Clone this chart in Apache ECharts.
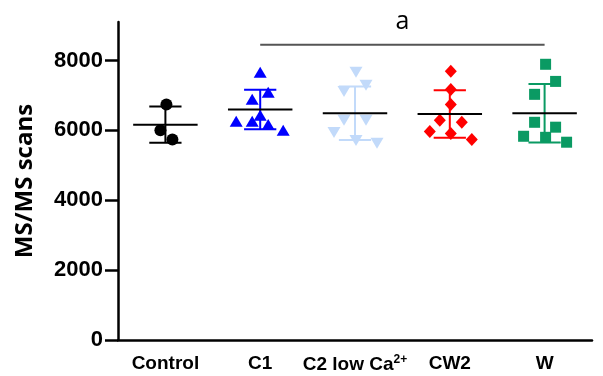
<!DOCTYPE html>
<html>
<head>
<meta charset="utf-8">
<script src="https://cdn.jsdelivr.net/npm/echarts@6/dist/echarts.min.js"></script>
<style>
    html, body { margin: 0; padding: 0; background: #fff; }
    #chart { width: 603px; height: 376px; }
</style>
</head>
<body>
<div id="chart"></div>
<script>
    // 组别
    var groups = ["Control", "C1", "C2 low Ca2+", "CW2", "W"];
    var yTicks = [0, 2000, 4000, 6000, 8000];

    // 每组的数值 (MS/MS scans)
    var controlVals = [6740, 6000, 5740];
    var c1Vals = [7660, 7090, 6890, 6260, 6260, 6430, 6170, 6000];
    var c2Vals = [7660, 7290, 7110, 6290, 6290, 5940, 5710, 5630];
    var cw2Vals = [7690, 7170, 6740, 6290, 6230, 5970, 5910, 5740];
    var wVals = [7890, 7400, 7030, 6230, 6090, 5830, 5800, 5660];

    // 点的水平抖动 (px)
    var controlJit = [1, -5, 7];
    var c1Jit = [0, 8, -8, -24, -8, 0, 8, 23];
    var c2Jit = [1, 11, -11, -11, 11, -21, 1, 22];
    var cw2Jit = [1, 1, 1, -10, 12, -20, 1, 22];
    var wJit = [1, 11, -10, -10, 11, -21, 1, 22];

    // 显著性标记 a: C1 -> W
    var sigFrom = 1, sigTo = 4, sigY = 8450, sigText = "a";

    var allVals = [controlVals, c1Vals, c2Vals, cw2Vals, wVals];
    var allJit = [controlJit, c1Jit, c2Jit, cw2Jit, wJit];
    var colors = ["#000000", "#0000ff", "#c2dafa", "#ff0000", "#0a9a63"];
    var symbols = ["circle", "triangle", "path://M0,0 L10,0 L5,9 Z", "diamond", "rect"];
    var sizes = [[12, 12], [13, 11], [13, 11], [12, 13], [11, 11]];

    function mean(a) {
        var s = 0;
        a.forEach(function (v) { s += v; });
        return s / a.length;
    }
    function sd(a) {
        var m = mean(a), s = 0;
        a.forEach(function (v) { s += (v - m) * (v - m); });
        return Math.sqrt(s / (a.length - 1));
    }

    var series = [];
    allVals.forEach(function (vals, gi) {
        series.push({
            type: "scatter",
            name: groups[gi],
            symbol: symbols[gi],
            symbolSize: sizes[gi],
            itemStyle: { color: colors[gi], opacity: 1 },
            z: 2,
            data: vals.map(function (v, i) {
                return { value: [gi, v], symbolOffset: [allJit[gi][i], 0] };
            })
        });
    });

    // 均值 ± SD
    var statData = allVals.map(function (vals, gi) {
        return [gi, mean(vals), sd(vals)];
    });
    series.push({
        type: "custom",
        z: 3,
        data: statData,
        renderItem: function (params, api) {
            var gi = api.value(0);
            var m = api.value(1), s = api.value(2);
            var band = api.size([1, 0])[0];
            var c = api.coord([gi, m]);
            var top = api.coord([gi, m + s])[1];
            var bot = api.coord([gi, m - s])[1];
            var col = colors[gi];
            var wMean = band * 0.34, wCap = band * 0.17;
            return {
                type: "group",
                children: [
                    { type: "line", shape: { x1: c[0], y1: top, x2: c[0], y2: bot }, style: { stroke: col, lineWidth: 2 } },
                    { type: "line", shape: { x1: c[0] - wCap, y1: top, x2: c[0] + wCap, y2: top }, style: { stroke: col, lineWidth: 2 } },
                    { type: "line", shape: { x1: c[0] - wCap, y1: bot, x2: c[0] + wCap, y2: bot }, style: { stroke: col, lineWidth: 2 } },
                    { type: "line", shape: { x1: c[0] - wMean, y1: c[1], x2: c[0] + wMean, y2: c[1] }, style: { stroke: "#000", lineWidth: 2 } }
                ]
            };
        }
    });

    // 显著性横线
    series.push({
        type: "custom",
        z: 3,
        clip: false,
        data: [[sigFrom, sigTo, sigY]],
        renderItem: function (params, api) {
            var p1 = api.coord([api.value(0), api.value(2)]);
            var p2 = api.coord([api.value(1), api.value(2)]);
            return {
                type: "group",
                children: [
                    { type: "line", shape: { x1: p1[0], y1: p1[1], x2: p2[0], y2: p2[1] }, style: { stroke: "#555", lineWidth: 2 } },
                    {
                        type: "text",
                        style: {
                            x: (p1[0] + p2[0]) / 2, y: p1[1] - 10, text: sigText,
                            fill: "#000", font: "25px 'Open Sans', sans-serif",
                            align: "center", verticalAlign: "bottom"
                        }
                    }
                ]
            };
        }
    });

    var option = {
        animation: false,
        grid: { left: 118, right: 11, top: 22, bottom: 36, containLabel: false },
        xAxis: {
            type: "category",
            data: groups,
            boundaryGap: true,
            axisLine: { onZero: false, lineStyle: { color: "#000", width: 2.5 } },
            axisTick: { alignWithLabel: true, length: 7, lineStyle: { color: "#000", width: 2.5 } },
            axisLabel: {
                margin: 14,
                interval: 0,
                color: "#000",
                fontFamily: "Liberation Sans, Arial, sans-serif",
                fontWeight: "bold",
                fontSize: 19,
                formatter: function (v) {
                    if (v === "C2 low Ca2+") return "C2 low Ca{sup|2+}";
                    return v;
                },
                rich: {
                    sup: {
                        fontSize: 12, fontWeight: "bold", color: "#000",
                        fontFamily: "Liberation Sans, Arial, sans-serif",
                        verticalAlign: "bottom", padding: [0, 0, 9, 0]
                    }
                }
            },
            splitLine: { show: false }
        },
        yAxis: {
            type: "value",
            min: 0,
            max: 9100,
            name: "MS/MS scans",
            nameLocation: "middle",
            nameGap: 81,
            nameTextStyle: {
                color: "#000", fontSize: 24, fontWeight: "bold",
                fontFamily: "Open Sans, DejaVu Sans, sans-serif"
            },
            axisLine: { show: true, lineStyle: { color: "#000", width: 2.5 } },
            axisTick: { show: true, length: 13, customValues: yTicks, lineStyle: { color: "#000", width: 2.5 } },
            axisLabel: {
                customValues: yTicks,
                margin: 15,
                color: "#000",
                fontSize: 22,
                fontWeight: "bold",
                fontFamily: "Liberation Sans, Arial, sans-serif",
                formatter: function (v) { return String(v); }
            },
            splitLine: { show: false }
        },
        series: series
    };

    var chartObj = echarts.init(document.getElementById("chart"));
    chartObj.setOption(option);
    window.addEventListener("resize", function () {
        chartObj.resize();
    });
</script>
</body>
</html>
